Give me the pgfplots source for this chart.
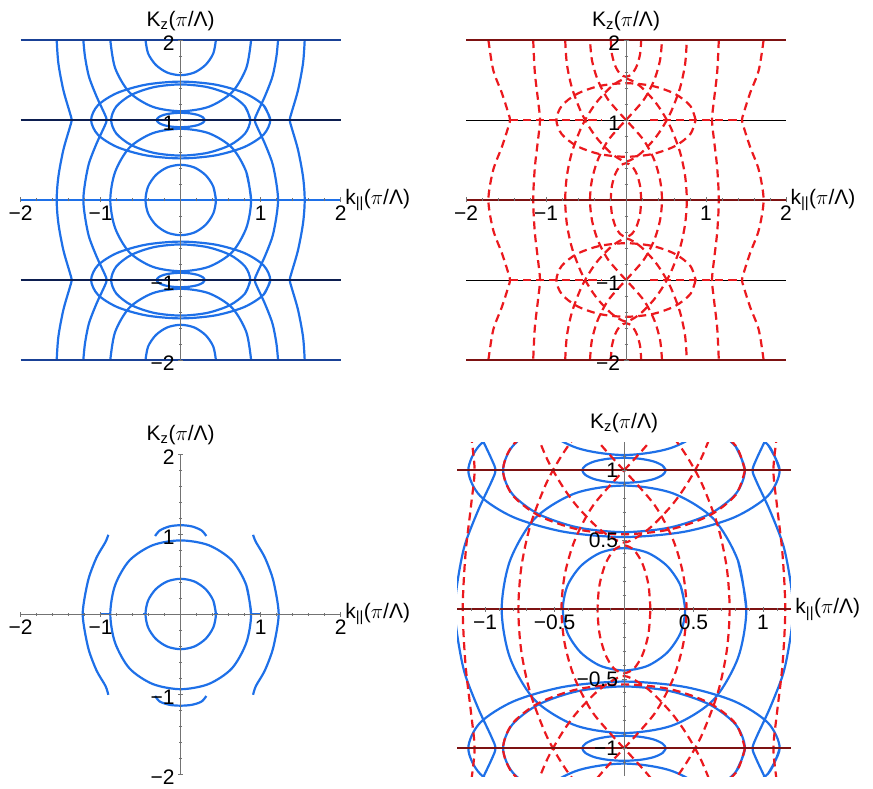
\documentclass[border=0pt]{standalone}
\usepackage{pgfplots}
\pgfplotsset{compat=1.18}
\usepackage{fontspec}
\setmainfont{Liberation Sans}
\definecolor{bl}{RGB}{30,112,232}
\definecolor{nv}{RGB}{12,30,80}
\definecolor{nvb}{RGB}{25,65,150}
\definecolor{rd}{RGB}{235,25,30}
\definecolor{mr}{RGB}{125,18,18}
\newcommand\fsz{\fontsize{21}{25}\selectfont}
\pgfplotsset{
 pan/.style={scale only axis, anchor=south west, axis lines=middle, axis on top,
   axis line style={-, draw=black!55, line width=0.6pt},
   tick style={draw=black!55, line width=0.5pt},
   major tick length=5pt, minor tick length=3pt,
   tick label style={font=\fsz},
   xlabel={k\textsubscript{||}($\pi$/Λ)},
   ylabel={K\textsubscript{z}($\pi$/Λ)},
   every axis x label/.style={at={(current axis.right of origin)}, anchor=west, xshift=1pt, font=\fsz},
   every axis y label/.style={at={(current axis.above origin)}, anchor=south, yshift=6pt, font=\fsz},
 },
 pan2/.style={pan, width=320pt, height=320pt, xmin=-2, xmax=2, ymin=-2, ymax=2,
   xtick={-2,-1,1,2}, ytick={-2,-1,1,2},
   xticklabels={−2,−1,1,2}, yticklabels={−2,−1,1,2},
   yticklabel style={yshift=-3pt},
   minor xtick={-1.8,-1.6,-1.4,-1.2,-0.8,-0.6,-0.4,-0.2,0.2,0.4,0.6,0.8,1.2,1.4,1.6,1.8},
   minor ytick={-1.8,-1.6,-1.4,-1.2,-0.8,-0.6,-0.4,-0.2,0.2,0.4,0.6,0.8,1.2,1.4,1.6,1.8},
   clip=false},
 bc/.style={color=bl, line width=2.2pt, smooth},
 rc/.style={color=rd, line width=2.2pt, smooth, dash pattern=on 8pt off 5pt},
 hl/.style={line width=2.2pt},
}
\newcommand\bluecurves{%
\addplot[bc] coordinates {(0.44,0) (0.407,0.169) (0.311,0.311) (0.169,0.407) (0,0.44) (-0.169,0.407) (-0.311,0.311) (-0.407,0.169) (-0.44,0) (-0.407,-0.169) (-0.311,-0.311) (-0.169,-0.407) (0,-0.44) (0.169,-0.407) (0.311,-0.311) (0.407,-0.169) (0.44,0) (0.407,0.169)};
\addplot[bc] coordinates {(-0.44,2) (-0.407,1.831) (-0.311,1.689) (-0.169,1.593) (0,1.56) (0.169,1.593) (0.311,1.689) (0.407,1.831) (0.44,2)};
\addplot[bc] coordinates {(-0.44,-2) (-0.407,-1.831) (-0.311,-1.689) (-0.169,-1.593) (0,-1.56) (0.169,-1.593) (0.311,-1.689) (0.407,-1.831) (0.44,-2)};
\addplot[bc] coordinates {(0.88,0) (0.82,0.35) (0.64,0.655) (0.35,0.835) (0,0.89) (-0.35,0.835) (-0.64,0.655) (-0.82,0.35) (-0.88,0) (-0.82,-0.35) (-0.64,-0.655) (-0.35,-0.835) (0,-0.89) (0.35,-0.835) (0.64,-0.655) (0.82,-0.35) (0.88,0) (0.82,0.35)};
\addplot[bc] coordinates {(-0.88,2) (-0.82,1.65) (-0.64,1.345) (-0.35,1.165) (0,1.11) (0.35,1.165) (0.64,1.345) (0.82,1.65) (0.88,2)};
\addplot[bc] coordinates {(-0.88,-2) (-0.82,-1.65) (-0.64,-1.345) (-0.35,-1.165) (0,-1.11) (0.35,-1.165) (0.64,-1.345) (0.82,-1.65) (0.88,-2)};
\addplot[bc] coordinates {(0.3,1) (0.277,1.034) (0.212,1.064) (0.115,1.083) (0,1.09) (-0.115,1.083) (-0.212,1.064) (-0.277,1.034) (-0.3,1) (-0.277,0.966) (-0.212,0.936) (-0.115,0.917) (0,0.91) (0.115,0.917) (0.212,0.936) (0.277,0.966) (0.3,1) (0.277,1.034)};
\addplot[bc] coordinates {(0.3,-1) (0.277,-1.034) (0.212,-1.064) (0.115,-1.083) (0,-1.09) (-0.115,-1.083) (-0.212,-1.064) (-0.277,-1.034) (-0.3,-1) (-0.277,-0.966) (-0.212,-0.936) (-0.115,-0.917) (0,-0.91) (0.115,-0.917) (0.212,-0.936) (0.277,-0.966) (0.3,-1) (0.277,-1.034)};
\addplot[bc] coordinates {(1.12,1) (1.035,1.184) (0.792,1.339) (0.429,1.443) (0,1.48) (-0.429,1.443) (-0.792,1.339) (-1.035,1.184) (-1.12,1) (-1.035,0.816) (-0.792,0.661) (-0.429,0.557) (0,0.52) (0.429,0.557) (0.792,0.661) (1.035,0.816) (1.12,1) (1.035,1.184)};
\addplot[bc] coordinates {(1.12,-1) (1.035,-1.184) (0.792,-1.339) (0.429,-1.443) (0,-1.48) (-0.429,-1.443) (-0.792,-1.339) (-1.035,-1.184) (-1.12,-1) (-1.035,-0.816) (-0.792,-0.661) (-0.429,-0.557) (0,-0.52) (0.429,-0.557) (0.792,-0.661) (1.035,-0.816) (1.12,-1) (1.035,-1.184)};
\addplot[bc] coordinates {(0.87,1) (0.804,1.17) (0.615,1.315) (0.333,1.411) (0,1.445) (-0.333,1.411) (-0.615,1.315) (-0.804,1.17) (-0.87,1) (-0.804,0.83) (-0.615,0.685) (-0.333,0.589) (0,0.555) (0.333,0.589) (0.615,0.685) (0.804,0.83) (0.87,1) (0.804,1.17)};
\addplot[bc] coordinates {(0.87,-1) (0.804,-1.17) (0.615,-1.315) (0.333,-1.411) (0,-1.445) (-0.333,-1.411) (-0.615,-1.315) (-0.804,-1.17) (-0.87,-1) (-0.804,-0.83) (-0.615,-0.685) (-0.333,-0.589) (0,-0.555) (0.333,-0.589) (0.615,-0.685) (0.804,-0.83) (0.87,-1) (0.804,-1.17)};
\addplot[bc] coordinates {(-1.55,2) (-1.529,1.708) (-1.467,1.375) (-1.383,1.083) (-1.363,1) (-1.383,0.917) (-1.467,0.625) (-1.529,0.292) (-1.55,0) (-1.529,-0.292) (-1.467,-0.625) (-1.383,-0.917) (-1.363,-1) (-1.383,-1.083) (-1.467,-1.375) (-1.529,-1.708) (-1.55,-2)};
\addplot[bc] coordinates {(1.55,2) (1.529,1.708) (1.467,1.375) (1.383,1.083) (1.363,1) (1.383,0.917) (1.467,0.625) (1.529,0.292) (1.55,0) (1.529,-0.292) (1.467,-0.625) (1.383,-0.917) (1.363,-1) (1.383,-1.083) (1.467,-1.375) (1.529,-1.708) (1.55,-2)};
\addplot[bc] coordinates {(-1.217,2) (-1.196,1.79) (-1.146,1.54) (-1.05,1.29) (-0.954,1.083) (-0.925,1) (-0.954,0.917) (-1.05,0.71) (-1.146,0.46) (-1.196,0.21) (-1.217,0) (-1.196,-0.21) (-1.146,-0.46) (-1.05,-0.71) (-0.954,-0.917) (-0.925,-1) (-0.954,-1.083) (-1.05,-1.29) (-1.146,-1.54) (-1.196,-1.79) (-1.217,-2)};
\addplot[bc] coordinates {(1.217,2) (1.196,1.79) (1.146,1.54) (1.05,1.29) (0.954,1.083) (0.925,1) (0.954,0.917) (1.05,0.71) (1.146,0.46) (1.196,0.21) (1.217,0) (1.196,-0.21) (1.146,-0.46) (1.05,-0.71) (0.954,-0.917) (0.925,-1) (0.954,-1.083) (1.05,-1.29) (1.146,-1.54) (1.196,-1.79) (1.217,-2)};
}
\newcommand\redcurves{%
\addplot[rc] coordinates {(-1.72,2) (-1.66,1.625) (-1.55,1.333) (-1.47,1.083) (-1.45,1) (-1.47,0.917) (-1.55,0.667) (-1.66,0.375) (-1.72,0) (-1.66,-0.375) (-1.55,-0.667) (-1.47,-0.917) (-1.45,-1) (-1.47,-1.083) (-1.55,-1.333) (-1.66,-1.625) (-1.72,-2)};
\addplot[rc] coordinates {(1.72,2) (1.66,1.625) (1.55,1.333) (1.47,1.083) (1.45,1) (1.47,0.917) (1.55,0.667) (1.66,0.375) (1.72,0) (1.66,-0.375) (1.55,-0.667) (1.47,-0.917) (1.45,-1) (1.47,-1.083) (1.55,-1.333) (1.66,-1.625) (1.72,-2)};
\addplot[rc] coordinates {(-1.16,2) (-1.14,1.6) (-1.1,1.25) (-1.075,1) (-1.1,0.75) (-1.14,0.4) (-1.16,0) (-1.14,-0.4) (-1.1,-0.75) (-1.075,-1) (-1.1,-1.25) (-1.14,-1.6) (-1.16,-2)};
\addplot[rc] coordinates {(1.16,2) (1.14,1.6) (1.1,1.25) (1.075,1) (1.1,0.75) (1.14,0.4) (1.16,0) (1.14,-0.4) (1.1,-0.75) (1.075,-1) (1.1,-1.25) (1.14,-1.6) (1.16,-2)};
\addplot[rc] coordinates {(0.19,0) (0.176,0.176) (0.134,0.325) (0.073,0.425) (0,0.46) (-0.073,0.425) (-0.134,0.325) (-0.176,0.176) (-0.19,0) (-0.176,-0.176) (-0.134,-0.325) (-0.073,-0.425) (0,-0.46) (0.073,-0.425) (0.134,-0.325) (0.176,-0.176) (0.19,0)};
\addplot[rc] coordinates {(-0.19,2) (-0.176,1.824) (-0.134,1.675) (-0.073,1.575) (0,1.54) (0.073,1.575) (0.134,1.675) (0.176,1.824) (0.19,2)};
\addplot[rc] coordinates {(-0.19,-2) (-0.176,-1.824) (-0.134,-1.675) (-0.073,-1.575) (0,-1.54) (0.073,-1.575) (0.134,-1.675) (0.176,-1.824) (0.19,-2)};
\addplot[rc] coordinates {(0.45,-2) (0.426,-1.75) (0.353,-1.5) (0.22,-1.25) (0,-1)};
\addplot[rc] coordinates {(0,-1) (0.22,-0.75) (0.353,-0.5) (0.426,-0.25) (0.45,0) (0.426,0.25) (0.353,0.5) (0.22,0.75) (0,1)};
\addplot[rc] coordinates {(0,1) (0.22,1.25) (0.353,1.5) (0.426,1.75) (0.45,2)};
\addplot[rc] coordinates {(-0.45,-2) (-0.426,-1.75) (-0.353,-1.5) (-0.22,-1.25) (0,-1)};
\addplot[rc] coordinates {(0,-1) (-0.22,-0.75) (-0.353,-0.5) (-0.426,-0.25) (-0.45,0) (-0.426,0.25) (-0.353,0.5) (-0.22,0.75) (0,1)};
\addplot[rc] coordinates {(0,1) (-0.22,1.25) (-0.353,1.5) (-0.426,1.75) (-0.45,2)};
\addplot[rc] coordinates {(0,1.52) (0.096,1.48) (0.203,1.4) (0.345,1.25) (0.452,1.1) (0.562,0.9) (0.675,0.6) (0.739,0.3) (0.76,0) (0.739,-0.3) (0.675,-0.6) (0.562,-0.9) (0.452,-1.1) (0.345,-1.25) (0.203,-1.4) (0.096,-1.48) (0,-1.52) (-0.096,-1.48) (-0.203,-1.4) (-0.345,-1.25) (-0.452,-1.1) (-0.562,-0.9) (-0.675,-0.6) (-0.739,-0.3) (-0.76,0) (-0.739,0.3) (-0.675,0.6) (-0.562,0.9) (-0.452,1.1) (-0.345,1.25) (-0.203,1.4) (-0.096,1.48) (0,1.52)};
\addplot[rc] coordinates {(-0.76,2) (-0.739,1.7) (-0.675,1.4) (-0.562,1.1) (-0.452,0.9) (-0.345,0.75) (-0.203,0.6) (-0.096,0.52) (0,0.48) (0.096,0.52) (0.203,0.6) (0.345,0.75) (0.452,0.9) (0.562,1.1) (0.675,1.4) (0.739,1.7) (0.76,2)};
\addplot[rc] coordinates {(-0.76,-2) (-0.739,-1.7) (-0.675,-1.4) (-0.562,-1.1) (-0.452,-0.9) (-0.345,-0.75) (-0.203,-0.6) (-0.096,-0.52) (0,-0.48) (0.096,-0.52) (0.203,-0.6) (0.345,-0.75) (0.452,-0.9) (0.562,-1.1) (0.675,-1.4) (0.739,-1.7) (0.76,-2)};
\addplot[rc] coordinates {(0.87,1) (0.804,1.176) (0.615,1.325) (0.333,1.425) (0,1.46) (-0.333,1.425) (-0.615,1.325) (-0.804,1.176) (-0.87,1) (-0.804,0.824) (-0.615,0.675) (-0.333,0.575) (0,0.54) (0.333,0.575) (0.615,0.675) (0.804,0.824) (0.87,1)};
\addplot[rc] coordinates {(0.87,-1) (0.804,-1.176) (0.615,-1.325) (0.333,-1.425) (0,-1.46) (-0.333,-1.425) (-0.615,-1.325) (-0.804,-1.176) (-0.87,-1) (-0.804,-0.824) (-0.615,-0.675) (-0.333,-0.575) (0,-0.54) (0.333,-0.575) (0.615,-0.675) (0.804,-0.824) (0.87,-1)};
}
\begin{document}
\begin{tikzpicture}
\useasboundingbox (0,0) rectangle (873pt,788pt);
% top left
\begin{axis}[pan2, at={(20.7pt,428pt)}, x axis line style={draw=none}]
\bluecurves
\addplot[nvb, hl] coordinates {(-2,2) (2,2)};
\addplot[nvb, hl] coordinates {(-2,-2) (2,-2)};
\addplot[nv, hl] coordinates {(-2,1) (2,1)};
\addplot[nv, hl] coordinates {(-2,-1) (2,-1)};
\addplot[bl, hl] coordinates {(-2,0) (2,0)};
\end{axis}
% top right
\begin{axis}[pan2, at={(466pt,428pt)}, x axis line style={draw=none}]
\addplot[black, line width=0.6pt] coordinates {(-2,1) (2,1)};
\addplot[black, line width=0.6pt] coordinates {(-2,-1) (2,-1)};
\redcurves
\addplot[rc] coordinates {(-1.45,1) (-0.3,1)};
\addplot[rc] coordinates {(0.3,1) (1.45,1)};
\addplot[rc] coordinates {(-1.45,-1) (-0.3,-1)};
\addplot[rc] coordinates {(0.3,-1) (1.45,-1)};
\addplot[mr, hl] coordinates {(-2,2) (2,2)};
\addplot[mr, hl] coordinates {(-2,0) (2,0)};
\addplot[mr, hl] coordinates {(-2,-2) (2,-2)};
\end{axis}
% bottom left
\begin{axis}[pan2, at={(20.7pt,14pt)}]
\addplot[bc] coordinates {(0.44,0) (0.407,0.169) (0.311,0.311) (0.169,0.407) (0,0.44) (-0.169,0.407) (-0.311,0.311) (-0.407,0.169) (-0.44,0) (-0.407,-0.169) (-0.311,-0.311) (-0.169,-0.407) (0,-0.44) (0.169,-0.407) (0.311,-0.311) (0.407,-0.169) (0.44,0) (0.407,0.169)};
\addplot[bc] coordinates {(0.88,0) (0.82,0.36) (0.64,0.67) (0.35,0.86) (0,0.92) (-0.35,0.86) (-0.64,0.67) (-0.82,0.36) (-0.88,0) (-0.82,-0.36) (-0.64,-0.68) (-0.35,-0.875) (0,-0.94) (0.35,-0.875) (0.64,-0.68) (0.82,-0.36) (0.88,0) (0.82,0.36)};
\addplot[bc] coordinates {(-0.905,0.99) (-0.94,0.9) (-1.05,0.71) (-1.146,0.46) (-1.2,0.21) (-1.225,0) (-1.2,-0.21) (-1.146,-0.46) (-1.05,-0.71) (-0.94,-0.9) (-0.905,-1.01)};
\addplot[bc] coordinates {(0.905,0.99) (0.94,0.9) (1.05,0.71) (1.146,0.46) (1.2,0.21) (1.225,0) (1.2,-0.21) (1.146,-0.46) (1.05,-0.71) (0.94,-0.9) (0.905,-1.01)};
\addplot[bc] coordinates {(-0.32,0.975) (-0.26,1.045) (-0.14,1.095) (0,1.11) (0.14,1.095) (0.26,1.045) (0.32,0.975)};
\addplot[bc] coordinates {(-0.32,-1.025) (-0.26,-1.095) (-0.14,-1.135) (0,-1.146) (0.14,-1.135) (0.26,-1.095) (0.32,-1.025)};
\addplot[bl, hl] coordinates {(-1.0,0) (-0.88,0)};
\addplot[bl, hl] coordinates {(0.88,0) (1.0,0)};
\addplot[bl, hl] coordinates {(-0.47,0) (-0.42,0)};
\addplot[bl, hl] coordinates {(0.42,0) (0.47,0)};
\end{axis}
% bottom right
\begin{axis}[pan, at={(457.2pt,11.9pt)}, width=333.6pt, height=333.6pt,
  xmin=-1.2, xmax=1.2, ymin=-1.2, ymax=1.2, clip=true, x axis line style={draw=none},
  xtick={-1,-0.5,0.5,1}, xticklabels={−1,−0.5,0.5,1},
  ytick={-1,-0.5,0.5,1}, yticklabels={−1,−0.5,0.5,1},
  minor xtick={-1.1,-0.9,-0.8,-0.7,-0.6,-0.4,-0.3,-0.2,-0.1,0.1,0.2,0.3,0.4,0.6,0.7,0.8,0.9,1.1},
  minor ytick={-1.1,-0.9,-0.8,-0.7,-0.6,-0.4,-0.3,-0.2,-0.1,0.1,0.2,0.3,0.4,0.6,0.7,0.8,0.9,1.1}]
\bluecurves
\redcurves
\addplot[mr, hl] coordinates {(-1.2,1) (1.2,1)};
\addplot[mr, hl] coordinates {(-1.2,0) (1.2,0)};
\addplot[mr, hl] coordinates {(-1.2,-1) (1.2,-1)};
\end{axis}
\end{tikzpicture}
\end{document}
